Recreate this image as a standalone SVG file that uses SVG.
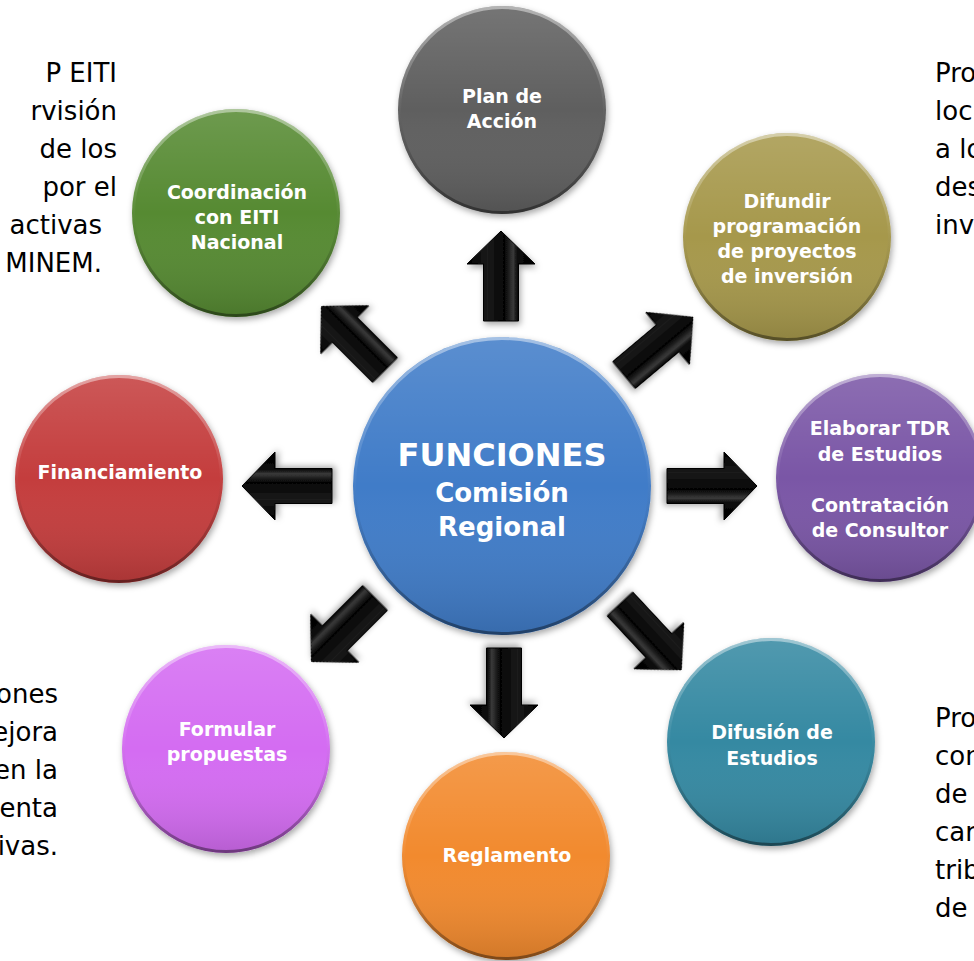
<svg xmlns="http://www.w3.org/2000/svg" xmlns:xlink="http://www.w3.org/1999/xlink" width="974" height="961" viewBox="0 0 974 961">
<style>
.lbl{font-family:"DejaVu Sans",Verdana,sans-serif;font-weight:bold;font-size:19px;fill:#fff;text-anchor:middle}
.big{font-family:"DejaVu Sans",Verdana,sans-serif;font-weight:bold;fill:#fff;text-anchor:middle}
.side{font-family:"DejaVu Sans",Tahoma,sans-serif;font-size:26px;fill:#000}
.shade{fill:url(#shade)}
.rim{fill:none;stroke:url(#rim);stroke-width:3}
.ball{filter:url(#drop)}
</style>
<defs>
  <filter id="drop" x="-20%" y="-20%" width="140%" height="140%">
    <feDropShadow dx="1.5" dy="3" stdDeviation="3" flood-color="#000" flood-opacity="0.35"/>
  </filter>
  <linearGradient id="shade" x1="0" y1="0" x2="0" y2="1">
    <stop offset="0" stop-color="#fff" stop-opacity="0.14"/>
    <stop offset="0.5" stop-color="#fff" stop-opacity="0"/>
    <stop offset="1" stop-color="#000" stop-opacity="0.14"/>
  </linearGradient>
  <linearGradient id="rim" x1="0" y1="0" x2="0" y2="1">
    <stop offset="0" stop-color="#fff" stop-opacity="0.45"/>
    <stop offset="0.45" stop-color="#fff" stop-opacity="0.05"/>
    <stop offset="0.6" stop-color="#000" stop-opacity="0.05"/>
    <stop offset="1" stop-color="#000" stop-opacity="0.4"/>
  </linearGradient>
  <linearGradient id="arrowGrad" x1="0" y1="0" x2="1" y2="0">
    <stop offset="0" stop-color="#000"/>
    <stop offset="0.3" stop-color="#1a1a1a"/>
    <stop offset="0.55" stop-color="#050505"/>
    <stop offset="0.68" stop-color="#3a3a3a"/>
    <stop offset="0.74" stop-color="#0a0a0a"/>
    <stop offset="1" stop-color="#000"/>
  </linearGradient>
  <path id="arrow" d="M-17.5,0 L-17.5,-57 L-34,-57 L0,-90 L34,-57 L17.5,-57 L17.5,0 Z" fill="url(#arrowGrad)" stroke="#000" stroke-width="1" stroke-linejoin="miter" filter="url(#drop)"/>
</defs>

<g id="side-texts">
  <text class="side" text-anchor="end" x="117" y="82">P EITI</text>
  <text class="side" text-anchor="end" x="117" y="120">rvisión</text>
  <text class="side" text-anchor="end" x="117" y="158">de los</text>
  <text class="side" text-anchor="end" x="117" y="196">por el</text>
  <text class="side" text-anchor="end" x="102" y="234">activas</text>
  <text class="side" text-anchor="end" x="102" y="272">MINEM.</text>

  <text class="side" x="935" y="82">Pro</text>
  <text class="side" x="935" y="120">loc</text>
  <text class="side" x="935" y="158">a lo</text>
  <text class="side" x="935" y="196">des</text>
  <text class="side" x="935" y="234">inv</text>

  <text class="side" text-anchor="end" x="58" y="703">ones</text>
  <text class="side" text-anchor="end" x="58" y="741">ejora</text>
  <text class="side" text-anchor="end" x="58" y="779">en la</text>
  <text class="side" text-anchor="end" x="58" y="817">enta</text>
  <text class="side" text-anchor="end" x="58" y="855">ivas.</text>

  <text class="side" x="935" y="727">Pro</text>
  <text class="side" x="935" y="765">con</text>
  <text class="side" x="935" y="803">de</text>
  <text class="side" x="935" y="841">car</text>
  <text class="side" x="935" y="879">trib</text>
  <text class="side" x="935" y="917">de</text>
</g>

<g id="connectors">
  <use xlink:href="#arrow" transform="translate(501,321)"/>
  <use xlink:href="#arrow" transform="translate(504,648) rotate(180)"/>
  <use xlink:href="#arrow" transform="translate(332,486) rotate(-90)"/>
  <use xlink:href="#arrow" transform="translate(667,486) rotate(90)"/>
  <use xlink:href="#arrow" transform="translate(385,370) rotate(-45)"/>
  <use xlink:href="#arrow" transform="translate(624,375) rotate(50)"/>
  <use xlink:href="#arrow" transform="translate(375,598) rotate(-135)"/>
  <use xlink:href="#arrow" transform="translate(620,604) rotate(137)"/>
</g>

<g id="node-center">
  <circle class="ball" cx="502" cy="486" r="149" fill="#3f7cc8"/>
  <circle class="shade" cx="502" cy="486" r="149"/>
  <circle class="rim" cx="502" cy="486" r="147.5"/>
  <text class="big" x="502" y="466" font-size="32">FUNCIONES</text>
  <text class="big" x="502" y="502" font-size="26">Comisión</text>
  <text class="big" x="502" y="536" font-size="26">Regional</text>
</g>

<g id="node-plan">
  <circle class="ball" cx="502" cy="110" r="104" fill="#5e5e5e"/>
  <circle class="shade" cx="502" cy="110" r="104"/>
  <circle class="rim" cx="502" cy="110" r="102.5"/>
  <text class="lbl" x="502" y="103">Plan de</text>
  <text class="lbl" x="502" y="128">Acción</text>
</g>

<g id="node-coordinacion">
  <circle class="ball" cx="236" cy="213" r="104" fill="#568a32"/>
  <circle class="shade" cx="236" cy="213" r="104"/>
  <circle class="rim" cx="236" cy="213" r="102.5"/>
  <text class="lbl" x="237" y="199">Coordinación</text>
  <text class="lbl" x="237" y="224">con EITI</text>
  <text class="lbl" x="237" y="249">Nacional</text>
</g>

<g id="node-difundir">
  <circle class="ball" cx="787" cy="237" r="104" fill="#a6984c"/>
  <circle class="shade" cx="787" cy="237" r="104"/>
  <circle class="rim" cx="787" cy="237" r="102.5"/>
  <text class="lbl" x="787" y="208">Difundir</text>
  <text class="lbl" x="787" y="233">programación</text>
  <text class="lbl" x="787" y="258">de proyectos</text>
  <text class="lbl" x="787" y="283">de inversión</text>
</g>

<g id="node-elaborar">
  <circle class="ball" cx="880" cy="478" r="104" fill="#7a57a6"/>
  <circle class="shade" cx="880" cy="478" r="104"/>
  <circle class="rim" cx="880" cy="478" r="102.5"/>
  <text class="lbl" x="880" y="435">Elaborar TDR</text>
  <text class="lbl" x="880" y="461">de Estudios</text>
  <text class="lbl" x="880" y="512">Contratación</text>
  <text class="lbl" x="880" y="537">de Consultor</text>
</g>

<g id="node-financiamiento">
  <circle class="ball" cx="119" cy="479" r="104" fill="#c43c3c"/>
  <circle class="shade" cx="119" cy="479" r="104"/>
  <circle class="rim" cx="119" cy="479" r="102.5"/>
  <text class="lbl" x="120" y="479">Financiamiento</text>
</g>

<g id="node-formular">
  <circle class="ball" cx="226" cy="749" r="104" fill="#d46cf2"/>
  <circle class="shade" cx="226" cy="749" r="104"/>
  <circle class="rim" cx="226" cy="749" r="102.5"/>
  <text class="lbl" x="227" y="736">Formular</text>
  <text class="lbl" x="227" y="761">propuestas</text>
</g>

<g id="node-reglamento">
  <circle class="ball" cx="506" cy="856" r="104" fill="#f28a2e"/>
  <circle class="shade" cx="506" cy="856" r="104"/>
  <circle class="rim" cx="506" cy="856" r="102.5"/>
  <text class="lbl" x="507" y="862">Reglamento</text>
</g>

<g id="node-difusion">
  <circle class="ball" cx="771" cy="742" r="104" fill="#3689a2"/>
  <circle class="shade" cx="771" cy="742" r="104"/>
  <circle class="rim" cx="771" cy="742" r="102.5"/>
  <text class="lbl" x="772" y="739">Difusión de</text>
  <text class="lbl" x="772" y="765">Estudios</text>
</g>
</svg>
